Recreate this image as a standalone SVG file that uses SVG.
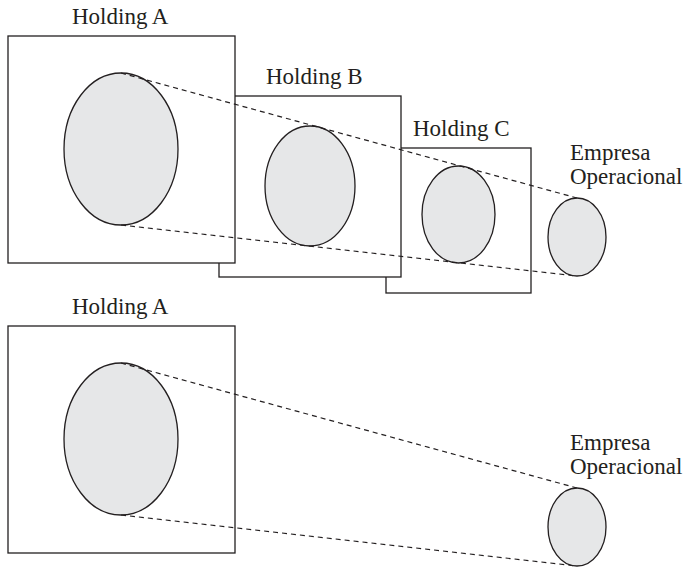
<svg xmlns="http://www.w3.org/2000/svg" width="688" height="568" viewBox="0 0 688 568">
  <style>
    .box { fill: #ffffff; stroke: #231f20; stroke-width: 1.3; }
    .ent { fill: #e6e7e8; stroke: #231f20; stroke-width: 1.3; }
    .lbl { font-family: "Liberation Serif", "Times New Roman", serif; font-size: 23px; fill: #231f20; }
    .dash { fill: none; stroke: #231f20; stroke-width: 1.2; stroke-dasharray: 5 4; }
  </style>
  <rect width="688" height="568" fill="#ffffff"/>

  <!-- Chain through three holdings -->
  <g id="holding-c-top">
    <rect class="box" x="386" y="148" width="145" height="145"/>
    <text class="lbl" x="413" y="136">Holding C</text>
    <ellipse class="ent" cx="458.5" cy="214.5" rx="36.5" ry="48.5"/>
  </g>
  <g id="holding-b-top">
    <rect class="box" x="219" y="96" width="182" height="181"/>
    <text class="lbl" x="266" y="84">Holding B</text>
    <ellipse class="ent" cx="310" cy="186" rx="45" ry="60"/>
  </g>
  <g id="holding-a-top">
    <rect class="box" x="8" y="36" width="227" height="227"/>
    <text class="lbl" x="72" y="24">Holding A</text>
    <ellipse class="ent" cx="121" cy="149" rx="57" ry="76"/>
  </g>
  <g id="empresa-top">
    <text class="lbl" x="570" y="160">Empresa</text>
    <text class="lbl" x="570" y="184">Operacional</text>
    <ellipse class="ent" cx="577" cy="237" rx="29" ry="39"/>
  </g>

  <!-- Direct holding -->
  <g id="holding-a-bottom">
    <rect class="box" x="8" y="326" width="227" height="227"/>
    <text class="lbl" x="72" y="314">Holding A</text>
    <ellipse class="ent" cx="121" cy="439" rx="57" ry="76"/>
  </g>
  <g id="empresa-bottom">
    <text class="lbl" x="570" y="450">Empresa</text>
    <text class="lbl" x="570" y="474">Operacional</text>
    <ellipse class="ent" cx="577" cy="527" rx="29" ry="39"/>
  </g>

  <g id="connectors">
    <line class="dash" x1="121" y1="73" x2="577" y2="198"/>
    <line class="dash" x1="121" y1="225" x2="577" y2="276"/>
    <line class="dash" x1="121" y1="363" x2="577" y2="488"/>
    <line class="dash" x1="121" y1="515" x2="577" y2="566"/>
  </g>
</svg>
